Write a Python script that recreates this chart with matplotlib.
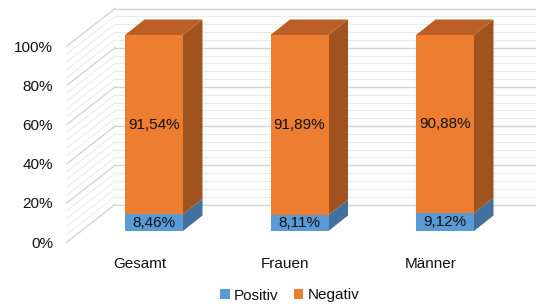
import matplotlib
matplotlib.use('Agg')
import matplotlib.pyplot as plt
from matplotlib.patches import Polygon, Patch

categories = ['Gesamt', 'Frauen', 'Männer']
positiv = [8.46, 8.11, 9.12]
negativ = [91.54, 91.89, 90.88]
series_names = ['Positiv', 'Negativ']
yticks = [0, 20, 40, 60, 80, 100]
ytick_labels = ['0%', '20%', '40%', '60%', '80%', '100%']

plt.rcParams['font.family'] = ['Liberation Sans', 'DejaVu Sans']

W, H = 536, 304
fig = plt.figure(figsize=(W / 100, H / 100), dpi=100)

# front plane of the 3D box (pixels)
L, R, B, T = 67, 500, 242, 46
ax = fig.add_axes([L / W, 1 - B / H, (R - L) / W, (B - T) / H])
x0px, step = 140, 145.5
ax.set_xlim((L - x0px) / step, (R - x0px) / step)
ax.set_ylim(0, 100)
sx = step
sy = (B - T) / 100.0

def off(px, py):
    return px / sx, py / sy

for s in ax.spines.values():
    s.set_visible(False)
ax.set_facecolor('none')

txt = '#111111'
ax.set_yticks(yticks)
ax.set_yticklabels(ytick_labels, fontsize=11, color=txt)
ax.set_xticks(range(len(categories)))
ax.set_xticklabels(categories, fontsize=11, color=txt)
ax.tick_params(axis='y', length=0, pad=10)
ax.tick_params(axis='x', length=0, pad=11)

# walls
wdx, wdy = off(48, 37.5)
xl = ax.get_xlim()[0]
xr = ax.get_xlim()[1] + 2
grid_levels = [v for v in range(0, 101, 4)]
for v in grid_levels:
    major = (v % 20 == 0)
    col = '#d4d4d4' if major else '#ebebeb'
    lw = 1.0 if major else 0.8
    ax.plot([xl + wdx, xr], [v + wdy, v + wdy], color=col, lw=lw, clip_on=False, zorder=1)
    ax.plot([xl, xl + wdx], [v, v + wdy], color=col, lw=lw, clip_on=False, zorder=1)

# bars
fdx, fdy = off(14, 11)
ddx, ddy = off(19.5, 15.5)
w = 58 / sx
xs = [i + fdx for i in range(len(categories))]

front_cols = ['#5B9BD5', '#ED7D31']
side_cols = ['#41719C', '#A0531E']
top_cols = ['#4A7DAE', '#BB5F26']

series = [positiv, negativ]
bottoms = [0.0] * len(categories)
for si, vals in enumerate(series):
    ax.bar(xs, vals, width=w, bottom=[b + fdy for b in bottoms],
           color=front_cols[si], zorder=3, clip_on=False, linewidth=0)
    for i, v in enumerate(vals):
        cx = xs[i]
        yb = bottoms[i] + fdy
        yt = yb + v
        side = Polygon([(cx + w / 2, yb), (cx + w / 2 + ddx, yb + ddy),
                        (cx + w / 2 + ddx, yt + ddy), (cx + w / 2, yt)],
                       closed=True, facecolor=side_cols[si], edgecolor='none',
                       zorder=2, clip_on=False)
        ax.add_patch(side)
        if si == len(series) - 1:
            top = Polygon([(cx - w / 2, yt), (cx + w / 2, yt),
                           (cx + w / 2 + ddx, yt + ddy), (cx - w / 2 + ddx, yt + ddy)],
                          closed=True, facecolor=top_cols[si], edgecolor='none',
                          zorder=2, clip_on=False)
            ax.add_patch(top)
        label = f"{v:.2f}".replace('.', ',') + '%'
        ax.text(cx, yb + v / 2, label, ha='center', va='center', fontsize=11,
                color=txt, zorder=5)
    bottoms = [b + v for b, v in zip(bottoms, vals)]

handles = [Patch(facecolor=front_cols[0]), Patch(facecolor=front_cols[1])]
fig.legend(handles, series_names, loc='center', bbox_to_anchor=(290 / W, 1 - 295.5 / H),
           ncol=2, frameon=False, fontsize=11, handlelength=0.6, handleheight=0.6,
           handletextpad=0.3, columnspacing=1.0, labelcolor=txt)

fig.savefig('out.png', dpi=100)
